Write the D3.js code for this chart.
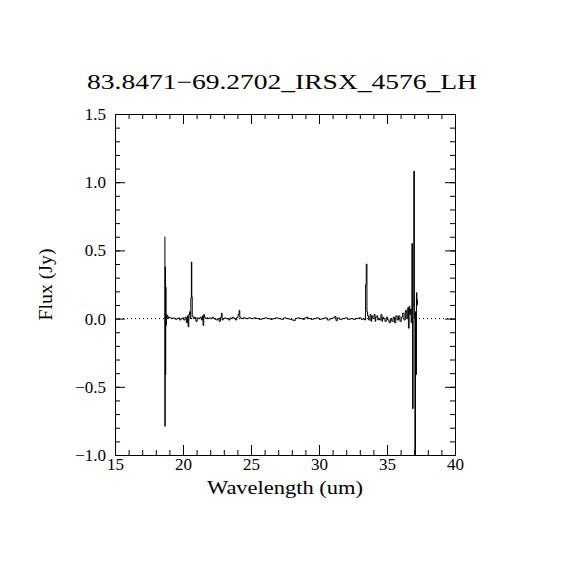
<!DOCTYPE html>
<html>
<head>
<meta charset="utf-8">
<script src="https://cdn.jsdelivr.net/npm/d3@7"></script>
<style>
  body { margin: 0; background: #fff; }
  text { font-family: "Liberation Serif", "DejaVu Serif", serif; fill: #000; }
</style>
</head>
<body>
<div id="chart"></div>
<script>
// spectrum (wavelength in um, flux in Jy)
const wavelength = [
  18.66, 18.68, 18.70, 18.72, 18.74, 18.76, 18.78, 18.80, 18.84, 18.88, 18.92, 18.96,
  19.00, 19.10, 19.20, 19.30, 19.40, 19.50, 19.60, 19.70, 19.80, 19.90,
  20.00, 20.10, 20.20, 20.30, 20.35, 20.40, 20.45, 20.50, 20.55, 20.60, 20.63, 20.66, 20.70, 20.80, 20.90,
  21.00, 21.10, 21.20, 21.30, 21.40, 21.45, 21.50, 21.55, 21.60, 21.70, 21.80, 21.90,
  22.00, 22.10, 22.20, 22.30, 22.40, 22.50, 22.60, 22.70, 22.80, 22.85, 22.90,
  23.00, 23.10, 23.20, 23.30, 23.40, 23.50, 23.60, 23.70, 23.80, 23.90,
  24.00, 24.10, 24.15, 24.20, 24.30, 24.50, 24.70, 24.90,
  25.10, 25.30, 25.50, 25.70, 25.90, 26.10, 26.30, 26.50, 26.70, 26.90,
  27.10, 27.30, 27.50, 27.70, 27.90, 28.10, 28.20, 28.30, 28.50, 28.70, 28.90,
  29.00, 29.10, 29.30, 29.50, 29.70, 29.90, 30.10, 30.30, 30.50, 30.70, 30.90,
  31.10, 31.20, 31.30, 31.40, 31.60, 31.80, 32.00, 32.20, 32.40, 32.60, 32.80,
  33.00, 33.20, 33.30, 33.40, 33.45, 33.50, 33.55, 33.60, 33.70, 33.80, 33.85, 33.90,
  34.00, 34.10, 34.15, 34.20, 34.30, 34.35, 34.40, 34.50, 34.60, 34.65, 34.70, 34.80, 34.90,
  35.00, 35.10, 35.20, 35.30, 35.40, 35.50, 35.60, 35.70, 35.80, 35.90,
  36.00, 36.10, 36.20, 36.30, 36.40, 36.50, 36.55, 36.60, 36.65, 36.70, 36.75, 36.80,
  36.86, 36.90, 36.94, 37.00, 37.03, 37.07, 37.12, 37.15, 37.18, 37.22, 37.25
];
const flux = [
  0.60, -0.79, 0.38, -0.41, 0.23, -0.05, 0.02, 0.03, 0.01, 0.02, 0.00, 0.01,
  0.01, 0.005, 0.00, 0.005, 0.00, -0.005, 0.00, 0.005, -0.01, 0.00,
  0.005, -0.01, 0.01, -0.03, 0.02, -0.06, 0.03, 0.05, 0.00, 0.15, 0.415, 0.16, 0.02, 0.00, 0.01,
  -0.02, 0.005, 0.00, 0.01, -0.01, 0.02, -0.05, 0.03, 0.01, 0.00, 0.005, 0.00,
  0.005, 0.00, 0.01, 0.00, -0.005, -0.01, 0.00, -0.02, 0.01, 0.04, -0.01,
  0.00, 0.005, 0.00, 0.00, -0.01, 0.005, 0.00, 0.01, 0.00, -0.01,
  0.01, 0.03, 0.06, 0.01, 0.00, 0.005, 0.00, 0.005,
  0.00, 0.005, 0.00, -0.005, 0.00, 0.005, 0.00, -0.005, 0.00, 0.005,
  0.00, -0.005, 0.005, 0.00, -0.005, -0.01, -0.015, 0.00, 0.005, 0.00, -0.005,
  0.005, 0.01, 0.00, -0.005, 0.00, 0.005, -0.005, 0.00, 0.005, -0.01, 0.00,
  0.005, 0.015, -0.015, 0.005, -0.005, 0.00, 0.005, -0.005, 0.00, -0.005, 0.00,
  0.005, -0.005, 0.00, -0.01, 0.25, 0.40, 0.05, 0.02, -0.01, 0.03, -0.02, 0.02,
  0.00, 0.03, -0.02, 0.01, 0.02, -0.01, 0.00, -0.01, 0.03, -0.02, 0.01, 0.00, -0.02,
  0.01, -0.01, -0.03, 0.00, -0.02, 0.01, -0.03, 0.02, -0.01, 0.02,
  -0.02, 0.01, 0.04, -0.01, 0.06, 0.00, 0.08, -0.07, 0.09, 0.03, 0.07, -0.03,
  0.55, -0.66, 0.10, 1.08, 0.00, -1.20, 0.05, -0.41, 0.19, 0.10, 0.14
];
const xTicks = [15, 20, 25, 30, 35, 40];
const yTicks = [-1.0, -0.5, 0.0, 0.5, 1.0, 1.5];
const title = "83.8471\u221269.2702_IRSX_4576_LH";
const xLabel = "Wavelength (um)";
const yLabel = "Flux (Jy)";

const W = 570, H = 570;
const pLeft = 115, pRight = 455, pTop = 114, pBottom = 455;

const svg = d3.select("#chart").append("svg")
    .attr("width", W)
    .attr("height", H);

const x = d3.scaleLinear().domain([15, 40]).range([pLeft, pRight]);
const y = d3.scaleLinear().domain([-1.0, 1.5]).range([pBottom, pTop]);

const points = wavelength.map((w, i) => ({ w: w, f: flux[i] }));

svg.append("clipPath").attr("id", "plotclip")
  .append("rect")
    .attr("x", pLeft).attr("y", pTop)
    .attr("width", pRight - pLeft).attr("height", pBottom - pTop);

// zero line
svg.append("line")
    .attr("x1", pLeft).attr("x2", pRight)
    .attr("y1", y(0)).attr("y2", y(0))
    .attr("stroke", "#000")
    .attr("stroke-width", 1)
    .attr("stroke-dasharray", "1,3");

const line = d3.line()
    .x(d => x(d.w))
    .y(d => y(d.f))
    .curve(d3.curveStep);

svg.append("path")
    .datum(points)
    .attr("clip-path", "url(#plotclip)")
    .attr("fill", "none")
    .attr("stroke", "#000")
    .attr("stroke-width", 1)
    .attr("d", line);

// axes, ticks inward on all four sides
const fmtY = d => (d < 0 ? "\u2212" : "") + Math.abs(d).toFixed(1);
const xMinor = d3.range(15, 41, 1);
const yMinor = d3.range(-10, 16, 1).map(v => v / 10);

function boxAxis(axis, transform, labels) {
  const g = svg.append("g").attr("transform", transform).call(axis);
  g.select(".domain").attr("stroke-width", 1);
  g.selectAll(".tick line").attr("stroke-width", 1);
  if (!labels) g.selectAll(".tick text").remove();
  else g.selectAll(".tick text").attr("font-size", 17).attr("font-family", "Liberation Serif");
  return g;
}

// minor
boxAxis(d3.axisBottom(x).tickValues(xMinor).tickSize(-5).tickSizeOuter(0), `translate(0,${pBottom})`, false);
boxAxis(d3.axisTop(x).tickValues(xMinor).tickSize(-5).tickSizeOuter(0), `translate(0,${pTop})`, false);
boxAxis(d3.axisLeft(y).tickValues(yMinor).tickSize(-5).tickSizeOuter(0), `translate(${pLeft},0)`, false);
boxAxis(d3.axisRight(y).tickValues(yMinor).tickSize(-5).tickSizeOuter(0), `translate(${pRight},0)`, false);
// major
boxAxis(d3.axisBottom(x).tickValues(xTicks).tickSize(-10).tickSizeOuter(0).tickPadding(3), `translate(0,${pBottom})`, true);
boxAxis(d3.axisTop(x).tickValues(xTicks).tickSize(-10).tickSizeOuter(0), `translate(0,${pTop})`, false);
boxAxis(d3.axisLeft(y).tickValues(yTicks).tickSize(-10).tickSizeOuter(0).tickPadding(9).tickFormat(fmtY), `translate(${pLeft},0)`, true);
boxAxis(d3.axisRight(y).tickValues(yTicks).tickSize(-10).tickSizeOuter(0), `translate(${pRight},0)`, false);

svg.append("text")
    .attr("x", 87)
    .attr("y", 89)
    .attr("textLength", 390)
    .attr("lengthAdjust", "spacingAndGlyphs")
    .style("font-size", "21px")
    .text(title);

svg.append("text")
    .attr("x", 207)
    .attr("y", 494)
    .attr("textLength", 156)
    .attr("lengthAdjust", "spacingAndGlyphs")
    .style("font-size", "19px")
    .text(xLabel);

svg.append("text")
    .attr("transform", `translate(52,${(pTop + pBottom) / 2}) rotate(-90)`)
    .attr("text-anchor", "middle")
    .attr("textLength", 72)
    .attr("lengthAdjust", "spacingAndGlyphs")
    .style("font-size", "18px")
    .text(yLabel);
</script>
</body>
</html>
